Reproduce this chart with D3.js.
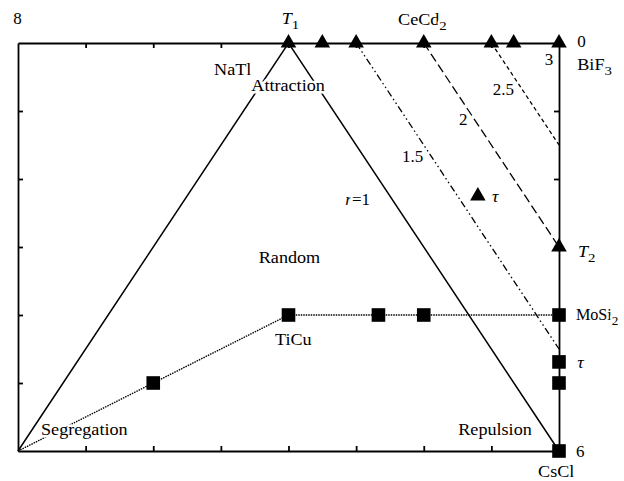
<!DOCTYPE html>
<html lang="en">
<head>
<meta charset="UTF-8">
<title>Ordering diagram</title>
<script src="https://d3js.org/d3.v7.min.js"></script>
<style>
  body { margin: 0; background: #fff; }
  svg text { font-family: "Liberation Serif", "Times New Roman", serif; fill: #000; }
  .halo { paint-order: stroke; stroke: #fff; stroke-width: 5px; stroke-linejoin: round; }
  .frame path, .frame line { stroke: #000; stroke-width: 1.8; }
</style>
</head>
<body>
<script>
// data
const boundary = [[0, 0], [4, 6], [8, 0]];            // r = 1 triangle
const squarePath = [[0, 0], [4, 2], [8, 2]];          // dotted line through squares
const rLines = [1.5, 2, 2.5];                         // iso-r lines
const rStartX = [5, 6, 7];                            // start on top edge
const rDash = ["7,3,1.5,3,1.5,3", "9,4", "4,3"];
const triangles = [[4, 6], [4.5, 6], [5, 6], [6, 6], [7, 6], [7.33, 6], [8, 6], [6.8, 3.75], [8, 3]];
const squares = [[2, 1], [4, 2], [5.33, 2], [6, 2], [8, 2], [8, 1.31], [8, 1], [8, 0]];
const xTicks = [1, 2, 3, 4, 5, 6, 7];
const yTicks = [1, 2, 3, 4, 5];

// labels: [parts, x, y, kind, hscale]  parts: [text, style] style: n normal, i italic, s subscript
const labels = [
  [[["8", "n"]], -0.07, 6.28, "num"],
  [[["T", "i"], ["1", "s"]], 3.9, 6.28, "word"],
  [[["CeCd", "n"], ["2", "s"]], 5.62, 6.26, "word"],
  [[["0", "n"]], 8.27, 5.94, "num"],
  [[["3", "n"]], 7.79, 5.68, "num"],
  [[["BiF", "n"], ["3", "s"]], 8.27, 5.60, "word"],
  [[["2.5", "n"]], 7.02, 5.24, "num"],
  [[["2", "n"]], 6.52, 4.79, "num"],
  [[["1.5", "n"]], 5.68, 4.25, "num"],
  [[["r", "i"], ["=1", "n"]], 4.84, 3.62, "num"],
  [[["τ", "i"]], 7.01, 3.66, "word"],
  [[["T", "i"], ["2", "s"]], 8.28, 2.85, "word"],
  [[["NaTl", "n"]], 2.9, 5.53, "word"],
  [[["Attraction", "n"]], 3.45, 5.29, "word"],
  [[["Random", "n"]], 3.56, 2.76, "word"],
  [[["TiCu", "n"]], 3.8, 1.56, "word"],
  [[["MoSi", "n"], ["2", "s"]], 8.25, 1.93, "word", 0.98],
  [[["τ", "i"]], 8.27, 1.22, "word"],
  [[["Segregation", "n"]], 0.34, 0.24, "word"],
  [[["Repulsion", "n"]], 6.51, 0.24, "word"],
  [[["6", "n"]], 8.25, -0.09, "num"],
  [[["CsCl", "n"]], 7.69, -0.38, "word"]
];

const W = 624, H = 481;
const x = d3.scaleLinear().domain([0, 8]).range([18, 559]);
const y = d3.scaleLinear().domain([0, 6]).range([451, 43]);

const svg = d3.select("body").append("svg")
  .attr("width", W).attr("height", H);

// frame with inward ticks
const frame = svg.append("g").attr("class", "frame");
frame.append("g").attr("transform", `translate(0,${y(0)})`)
  .call(d3.axisBottom(x).tickValues(xTicks).tickSize(-5).tickSizeOuter(0).tickFormat(""));
frame.append("g").attr("transform", `translate(0,${y(6)})`)
  .call(d3.axisTop(x).tickValues(xTicks).tickSize(-5).tickSizeOuter(0).tickFormat(""));
frame.append("g").attr("transform", `translate(${x(0)},0)`)
  .call(d3.axisLeft(y).tickValues(yTicks).tickSize(-5).tickSizeOuter(0).tickFormat(""));
frame.append("g").attr("transform", `translate(${x(8)},0)`)
  .call(d3.axisRight(y).tickValues(yTicks).tickSize(-5).tickSizeOuter(0).tickFormat(""));

const line = d3.line().x(d => x(d[0])).y(d => y(d[1]));

svg.append("path").datum(boundary)
  .attr("d", line).attr("fill", "none").attr("stroke", "#000").attr("stroke-width", 1.5);

svg.append("path").datum(squarePath)
  .attr("d", line).attr("fill", "none").attr("stroke", "#000")
  .attr("stroke-width", 1.4).attr("stroke-dasharray", "1.5,1");

// iso-r lines are parallel to the r=1 edge (slope -1.5)
rLines.forEach((r, i) => {
  const x0 = rStartX[i];
  const pts = [[x0, 6], [8, 6 - 1.5 * (8 - x0)]];
  svg.append("path").datum(pts)
    .attr("d", line).attr("fill", "none").attr("stroke", "#000")
    .attr("stroke-width", 1.3).attr("stroke-dasharray", rDash[i]);
});

svg.selectAll("path.tri").data(triangles).enter().append("path")
  .attr("class", "tri")
  .attr("transform", d => `translate(${x(d[0])},${y(d[1])})`)
  .attr("d", d3.symbol().type(d3.symbolTriangle).size(105))
  .attr("fill", "#000");

svg.selectAll("path.sq").data(squares).enter().append("path")
  .attr("class", "sq")
  .attr("transform", d => `translate(${x(d[0])},${y(d[1])})`)
  .attr("d", d3.symbol().type(d3.symbolSquare).size(185))
  .attr("fill", "#000");

// labels
labels.forEach(([parts, lx, ly, kind, hs]) => {
  const sx = hs || (kind === "word" ? 1.1 : 1);
  const t = svg.append("text")
    .attr("class", "halo")
    .attr("transform", `translate(${x(lx)},${y(ly)}) scale(${sx},1)`)
    .attr("font-size", kind === "word" ? 16.5 : 17);
  let sub = false;
  parts.forEach(([s, st]) => {
    const ts = t.append("tspan").text(s);
    if (st === "i") ts.attr("font-style", "italic");
    if (st === "s") { ts.attr("dy", 5).attr("font-size", 13.5); sub = true; }
    else if (sub) { ts.attr("dy", -5); sub = false; }
  });
});
</script>
</body>
</html>
